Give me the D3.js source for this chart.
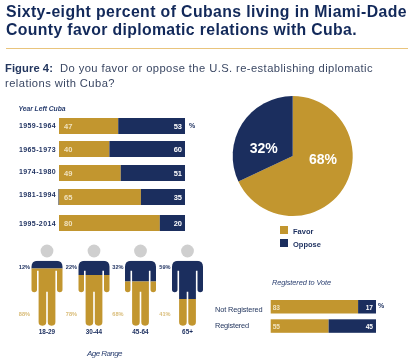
<!DOCTYPE html>
<html><head><meta charset="utf-8">
<script src="https://cdn.jsdelivr.net/npm/d3@7/dist/d3.min.js"></script>
<style>
html,body{margin:0;padding:0;background:#fff;overflow:hidden}
svg{display:block;filter:blur(0.3px)}
text{font-family:"Liberation Sans",Arial,sans-serif}
</style></head><body><svg id="c" width="415" height="364"></svg>
<script>
const titleLines=["Sixty-eight percent of Cubans living in Miami-Dade","County favor diplomatic relations with Cuba."];
const figureLabel="Figure 4:";
const questionLines=["Do you favor or oppose the U.S. re-establishing diplomatic","relations with Cuba?"];
const yearCategories=["1959-1964","1965-1973","1974-1980","1981-1994","1995-2014"];
const yearFavor=[47,40,49,65,80];
const yearOppose=[53,60,51,35,20];
const ageCategories=["18-29","30-44","45-64","65+"];
const ageFavor=[88,78,68,41];
const ageOppose=[12,22,32,59];
const voteCategories=["Not Registered","Registered"];
const voteFavor=[83,55];
const voteOppose=[17,45];
const pieCategories=["Favor","Oppose"];
const pieValues=[68,32];

const GOLD="#C2962F",NAVY="#1B2E5E",TITLE="#12295A",GREY="#CFCFCF";
const svg=d3.select("#c");
const t=(g,x,y,s,o={})=>g.append("text").attr("x",x).attr("y",y).text(s)
  .attr("font-size",o.size||8).attr("font-weight",o.weight||"normal").attr("font-style",o.style||"normal")
  .attr("fill",o.fill||NAVY).attr("text-anchor",o.anchor||"start");
// spread the letters so that the text runs the wanted width
function fit(sel,width){
  const n=sel.node(),w=n.getComputedTextLength(),len=sel.text().length;
  sel.attr("letter-spacing",((width-w)/len).toFixed(3));
  return sel;
}

// Header
titleLines.forEach((s,i)=>{
  fit(t(svg,6,[17.3,35.3][i],s,{size:15.8,weight:"bold",fill:TITLE}),[401,351][i]);
});
svg.append("line").attr("x1",6).attr("x2",408).attr("y1",48.5).attr("y2",48.5).attr("stroke","#E9C47C").attr("stroke-width",1);
fit(t(svg,5,72,figureLabel,{size:11.2,weight:"bold",fill:"#24375F"}),48);
fit(t(svg,60,72,questionLines[0],{size:11.2,fill:"#3A4763"}),313);
fit(t(svg,5,86.7,questionLines[1],{size:11.2,fill:"#3A4763"}),110);

// Generic stacked bars
function stacked(cats,fav,opp,x,yScale,h,o){
  const g=svg.append("g");
  cats.forEach((c,i)=>{
    const y=yScale(c);
    g.append("rect").attr("x",x(0)).attr("y",y).attr("width",x(fav[i])-x(0)).attr("height",h).attr("fill",GOLD);
    g.append("rect").attr("x",x(fav[i])).attr("y",y).attr("width",x(100)-x(fav[i])).attr("height",h).attr("fill",NAVY);
    t(g,x(0)+o.inset,y+h/2+2.8,fav[i],{size:o.size,weight:"bold",fill:"#F0E2BE"});
    t(g,x(100)-3,y+h/2+2.8,opp[i],{size:o.size,weight:"bold",fill:"#fff",anchor:"end"});
  });
  return g;
}
// Year left Cuba
const xYear=d3.scaleLinear().domain([0,100]).range([59,185]);
const yYear=d3.scaleOrdinal().domain(yearCategories).range([118,141,165,189,215]);
const yYearLabel=d3.scaleOrdinal().domain(yearCategories).range([128,151.5,174,196.5,226]);
fit(t(svg,18.5,111,"Year Left Cuba",{size:6.8,style:"italic",weight:"bold",fill:"#2A3F70"}),47);
stacked(yearCategories,yearFavor,yearOppose,xYear,yYear,16,{inset:5,size:7.5});
yearCategories.forEach(c=>fit(t(svg,19,yYearLabel(c),c,{size:7,weight:"bold"}),37));
t(svg,189,127.5,"%",{size:7,weight:"bold"});
svg.append("rect").attr("x",58).attr("y",yYear("1981-1994")).attr("width",1.2).attr("height",16).attr("fill","#8C8C8C");

// Pie
const pieG=svg.append("g").attr("transform","translate(292.7,156)");
const arcs=d3.pie().sort(null)(pieValues);
const arc=d3.arc().innerRadius(0).outerRadius(60);
pieG.selectAll("path").data(arcs).join("path").attr("d",arc).attr("fill",(d,i)=>[GOLD,NAVY][i]);
t(pieG,30.3,8,pieValues[0]+"%",{size:14,weight:"bold",fill:"#fff",anchor:"middle"});
t(pieG,-29,-2.7,pieValues[1]+"%",{size:14,weight:"bold",fill:"#fff",anchor:"middle"});
const yLegend=d3.scaleOrdinal().domain(pieCategories).range([226,239]);
pieCategories.forEach((c,i)=>{
  svg.append("rect").attr("x",280).attr("y",yLegend(c)).attr("width",8).attr("height",8).attr("fill",[GOLD,NAVY][i]);
  t(svg,293,yLegend(c)+7.5,c,{size:7.5,weight:"bold"});
});

// Age figures
const xAge=d3.scaleOrdinal().domain(ageCategories).range([47,94,140.5,187.5]);
const yBody=d3.scaleLinear().domain([0,100]).range([260.7,325.7]);
function bodyPath(cx){
  const top=yBody(0),bot=yBody(100),p=d3.path();
  const armOut=15.5,armIn=10,torso=8.4,gap=0.8,sh=6,armEnd=top+31.5,pit=top+10,crotch=top+31;
  p.moveTo(cx-armOut+sh,top);
  p.lineTo(cx+armOut-sh,top);
  p.quadraticCurveTo(cx+armOut,top,cx+armOut,top+sh);
  p.lineTo(cx+armOut,armEnd-2.8);
  p.arc(cx+(armOut+armIn)/2,armEnd-2.8,(armOut-armIn)/2,0,Math.PI);
  p.lineTo(cx+armIn,pit);
  p.lineTo(cx+torso,pit);
  p.lineTo(cx+torso,bot-3.6);
  p.arc(cx+(torso+gap)/2,bot-3.6,(torso-gap)/2,0,Math.PI);
  p.lineTo(cx+gap,crotch);
  p.lineTo(cx-gap,crotch);
  p.lineTo(cx-gap,bot-3.6);
  p.arc(cx-(torso+gap)/2,bot-3.6,(torso-gap)/2,0,Math.PI);
  p.lineTo(cx-torso,pit);
  p.lineTo(cx-armIn,pit);
  p.lineTo(cx-armIn,armEnd-2.8);
  p.arc(cx-(armOut+armIn)/2,armEnd-2.8,(armOut-armIn)/2,0,Math.PI);
  p.lineTo(cx-armOut,top+sh);
  p.quadraticCurveTo(cx-armOut,top,cx-armOut+sh,top);
  p.closePath();
  return p.toString();
}
const defs=svg.append("defs");
ageCategories.forEach((c,i)=>{
  const cx=xAge(c),split=yBody(ageOppose[i]);
  defs.append("clipPath").attr("id","top"+i).append("rect").attr("x",cx-20).attr("y",yBody(0)).attr("width",40).attr("height",split-yBody(0));
  defs.append("clipPath").attr("id","bot"+i).append("rect").attr("x",cx-20).attr("y",split).attr("width",40).attr("height",yBody(100)-split);
  svg.append("circle").attr("cx",cx).attr("cy",251).attr("r",6.4).attr("fill",GREY);
  svg.append("path").attr("d",bodyPath(cx)).attr("fill",NAVY).attr("clip-path",`url(#top${i})`);
  svg.append("path").attr("d",bodyPath(cx)).attr("fill",GOLD).attr("clip-path",`url(#bot${i})`);
  t(svg,cx-17,269,ageOppose[i]+"%",{size:5.6,weight:"bold",anchor:"end"});
  t(svg,cx-17,316,ageFavor[i]+"%",{size:5.6,weight:"bold",fill:"#D9BC78",anchor:"end"});
  t(svg,cx,334,c,{size:6.4,weight:"bold",anchor:"middle"});
});
fit(t(svg,104.5,356,"Age Range",{size:8,style:"italic",anchor:"middle",fill:"#2A3F70"}),35);

// Registered to vote
const xVote=d3.scaleLinear().domain([0,100]).range([270.7,376]);
const yVote=d3.scaleOrdinal().domain(voteCategories).range([300,319.3]);
fit(t(svg,272,285,"Registered to Vote",{size:7.4,style:"italic",fill:"#2A3F70"}),59);
stacked(voteCategories,voteFavor,voteOppose,xVote,yVote,13.5,{inset:2,size:6.6});
fit(t(svg,215,312,voteCategories[0],{size:7.4,fill:"#24375F"}),47.5);
fit(t(svg,215,328,voteCategories[1],{size:7.4,fill:"#24375F"}),34);
t(svg,378,308,"%",{size:7,weight:"bold"});
</script></body></html>
